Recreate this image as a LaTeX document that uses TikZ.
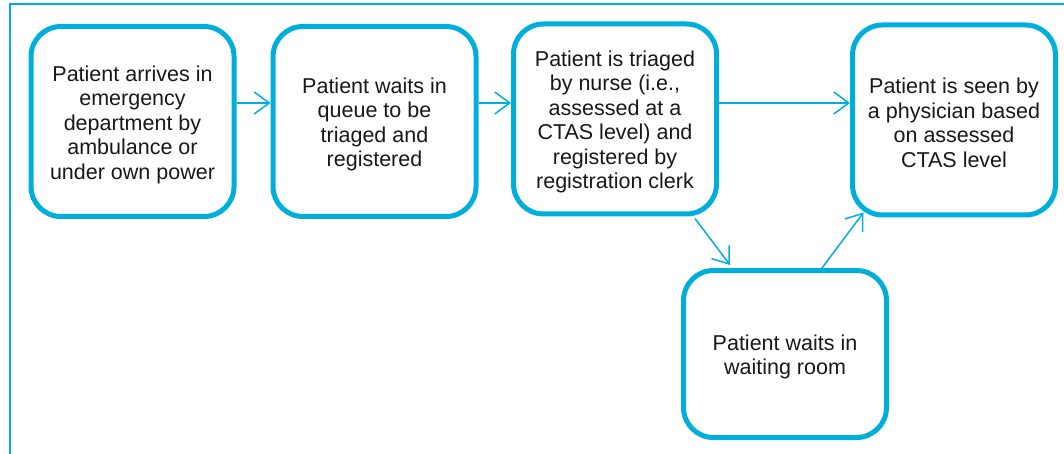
\documentclass[tikz,border=0pt]{standalone}
\usepackage{fontspec}
\setmainfont{Liberation Sans}
\usetikzlibrary{arrows.meta,calc}
\definecolor{flowblue}{RGB}{0,174,219}
\definecolor{inktext}{RGB}{25,23,25}
\begin{document}
\begin{tikzpicture}[x=1pt,y=-1pt,
  stepbox/.style={draw=flowblue, line width=5pt, rounded corners=30pt,
    minimum width=203pt, minimum height=190pt, inner sep=0pt},
  steptext/.style={align=center, text=inktext, inner sep=0pt, yshift=-3pt,
    font=\fontsize{21.5pt}{24.5pt}\selectfont},
  flow/.style={draw=flowblue, line width=1.5pt,
    -{Straight Barb[length=15pt,width=22pt,line width=1.5pt]}},
  frameline/.style={draw=flowblue, line width=2pt}]
  \useasboundingbox (0,0) rectangle (1064,454);

  % outer frame (top and left edges only)
  \coordinate (fTL) at (10,4.5);
  \coordinate (fTR) at (1064,4.5);
  \coordinate (fBL) at (10,454);
  \draw[frameline] (fTR) -- (fTL) -- (fBL);

  % process steps
  \node[stepbox, label={[steptext]center:Patient arrives in\\emergency\\department by\\ambulance or\\under own power}] (b1) at (132.5,121.5) {};
  \node[stepbox, label={[steptext]center:Patient waits in\\queue to be\\triaged and\\registered}] (b2) at (374.5,121.5) {};
  \node[stepbox, label={[steptext]center:Patient is triaged\\by nurse (i.e.,\\assessed at a\\CTAS level) and\\registered by\\registration clerk}] (b3) at (615,119) {};
  \node[stepbox, label={[steptext]center:Patient is seen by\\a physician based\\on assessed\\CTAS level}] (b4) at (954,120) {};
  \node[stepbox, minimum height=167pt, label={[steptext]center:Patient waits in\\waiting room}] (b5) at (785,354) {};

  % connectors
  \coordinate (row) at (0,103);
  \draw[flow] (b1.east |- row) -- (b2.west |- row);
  \draw[flow] (b2.east |- row) -- (b3.west |- row);
  \draw[flow] (b3.east |- row) -- (b4.west |- row);
  \draw[flow] ($(b3.south)+(80,2)$) -- ($(b5.north)+(-55,-3)$);
  \draw[flow] ($(b5.north)+(37,0)$) -- ($(b4.south west)+(13.5,-5)$);
\end{tikzpicture}
\end{document}
